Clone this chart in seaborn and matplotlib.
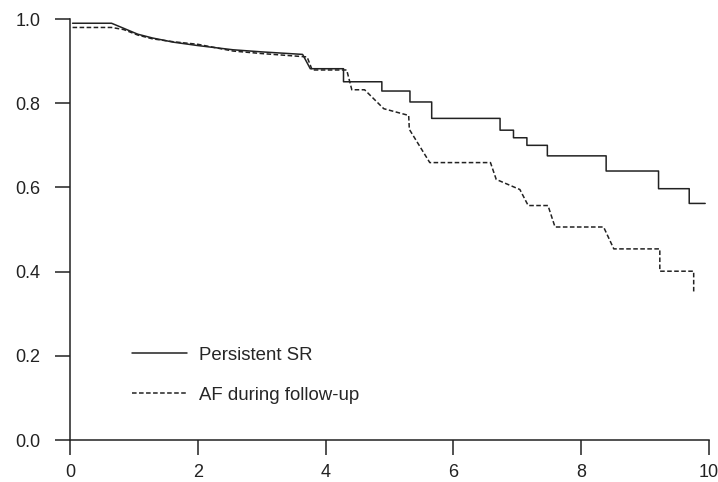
import pandas as pd
import matplotlib
matplotlib.use("Agg")
import matplotlib.pyplot as plt
import seaborn as sns

# Kaplan-Meier style curves, vertices
sr_time = [0.04, 0.65, 0.84, 1.06, 1.29, 1.62, 2.00, 2.55, 3.00, 3.64, 3.76,
           4.28, 4.28, 4.88, 4.88, 5.32, 5.32, 5.66, 5.66, 6.73, 6.73, 6.94,
           6.94, 7.15, 7.15, 7.47, 7.47, 8.39, 8.39, 9.21, 9.21, 9.69, 9.69, 9.94]
sr_surv = [0.990, 0.990, 0.978, 0.964, 0.955, 0.945, 0.937, 0.927, 0.922, 0.916, 0.882,
           0.882, 0.851, 0.851, 0.829, 0.829, 0.803, 0.803, 0.764, 0.764, 0.736, 0.736,
           0.718, 0.718, 0.700, 0.700, 0.675, 0.675, 0.639, 0.639, 0.597, 0.597, 0.562, 0.562]

af_time = [0.04, 0.65, 0.84, 1.06, 1.29, 1.62, 2.00, 2.55, 3.00, 3.71, 3.79,
           4.33, 4.41, 4.61, 4.91, 5.30, 5.31, 5.63, 6.58, 6.67, 7.04, 7.17,
           7.48, 7.59, 8.35, 8.51, 9.23, 9.23, 9.76, 9.76]
af_surv = [0.980, 0.980, 0.975, 0.962, 0.953, 0.946, 0.940, 0.924, 0.918, 0.910, 0.879,
           0.879, 0.832, 0.832, 0.787, 0.771, 0.738, 0.659, 0.659, 0.619, 0.595, 0.557,
           0.557, 0.506, 0.506, 0.454, 0.454, 0.401, 0.401, 0.349]

groups = ["Persistent SR", "AF during follow-up"]

df = pd.concat([
    pd.DataFrame({"time": sr_time, "surv": sr_surv, "group": groups[0]}),
    pd.DataFrame({"time": af_time, "surv": af_surv, "group": groups[1]}),
], ignore_index=True)

sns.set_theme(style="ticks")
plt.rcParams["font.family"] = ["Liberation Sans", "DejaVu Sans"]

ink = "#222222"
fig = plt.figure(figsize=(7.18, 4.82), dpi=100)
ax = fig.add_axes([0.0975, 0.0871, 0.89, 0.8734])

sns.lineplot(data=df, x="time", y="surv", hue="group", style="group",
             units="group", estimator=None, sort=False,
             palette={groups[0]: ink, groups[1]: ink},
             dashes={groups[0]: "", groups[1]: (3, 1.6)},
             linewidth=1.1, ax=ax, legend=False)

ax.set_xlim(0, 10)
ax.set_ylim(0, 1.0)
ax.set_xticks([0, 2, 4, 6, 8, 10])
ax.set_yticks([0.0, 0.2, 0.4, 0.6, 0.8, 1.0])
ax.set_yticklabels(["0.0", "0.2", "0.4", "0.6", "0.8", "1.0"])
ax.set_xlabel("")
ax.set_ylabel("")
ax.tick_params(direction="out", length=10.5, width=1.1, color=ink,
               labelsize=13, labelcolor=ink)
ax.tick_params(axis="x", pad=6.5)
ax.tick_params(axis="y", pad=11)
sns.despine(ax=ax)
for s in ("left", "bottom"):
    ax.spines[s].set_linewidth(1.1)
    ax.spines[s].set_color(ink)

handles = [plt.Line2D([], [], color=ink, lw=1.1),
           plt.Line2D([], [], color=ink, lw=1.1, dashes=(3, 1.6))]
ax.legend(handles, groups, loc="upper left", bbox_to_anchor=(0.0966, 0.221),
          frameon=False, fontsize=13.4, handlelength=2.95, handletextpad=0.66,
          labelspacing=1.22, borderpad=0, borderaxespad=0)

fig.savefig("out.png", dpi=100)
